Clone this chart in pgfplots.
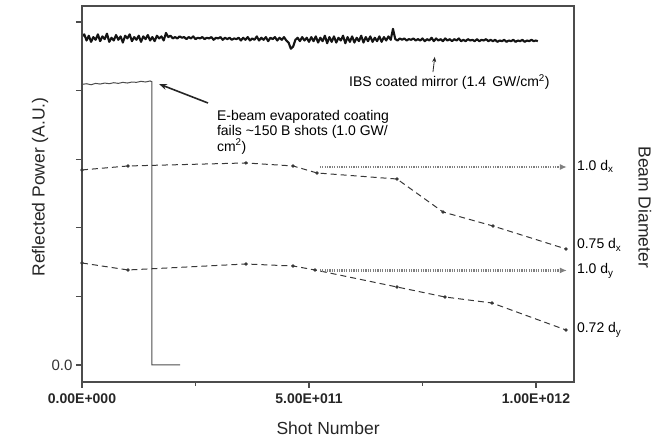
\documentclass[border=0pt]{standalone}
\usepackage{fontspec}
\setmainfont{Liberation Sans}
\usepackage{pgfplots}
\pgfplotsset{compat=1.18}
\usetikzlibrary{arrows.meta}

\definecolor{axgray}{gray}{0.30}
\definecolor{curvec}{gray}{0.08}
\definecolor{dashc}{gray}{0.22}
\definecolor{dotc}{gray}{0.50}

\newcommand{\lbl}{\fontsize{17.5}{20}\selectfont}
\newcommand{\ann}{\fontsize{14}{15.5}\selectfont}

\begin{document}
\begin{tikzpicture}
\useasboundingbox (-82pt,-59pt) rectangle (577pt,382pt);
\begin{axis}[
  at={(0pt,0pt)}, anchor=south west,
  scale only axis,
  width=492pt, height=376pt,
  xmin=0, xmax=10.837,
  ymin=-0.248, ymax=5.233,
  clip=false,
  axis lines=box,
  axis line style={line width=1.3pt, axgray},
  every tick/.style={line width=1.1pt, axgray},
  tick align=outside,
  xtick pos=left, ytick pos=left,
  major tick length=6pt, minor tick length=4pt,
  xtick={0,5,10},
  xticklabels={0.00E+000,5.00E+011,1.00E+012},
  minor xtick={2.5,7.5},
  ytick={0,1,2,3,4,5},
  yticklabels={0.0,,,,,},
  xticklabel style={font=\fontsize{14}{16}\selectfont\bfseries, text=black!85, yshift=-2pt},
  yticklabel style={font=\fontsize{15}{17}\selectfont, text=black!80},
]

% IBS coated mirror
\addplot[curvec, line width=2.1pt, line join=round] coordinates {
(0.00,4.79) (0.05,4.82) (0.10,4.73) (0.15,4.80) (0.20,4.71) (0.25,4.78) (0.30,4.74) (0.35,4.82)
(0.40,4.72) (0.45,4.79) (0.50,4.75) (0.55,4.83) (0.60,4.71) (0.65,4.77) (0.70,4.73) (0.75,4.81)
(0.80,4.74) (0.85,4.79) (0.90,4.70) (0.95,4.80) (1.00,4.76) (1.05,4.82) (1.10,4.72) (1.15,4.78)
(1.20,4.74) (1.25,4.80) (1.30,4.71) (1.35,4.79) (1.40,4.75) (1.45,4.81) (1.50,4.73) (1.55,4.78)
(1.60,4.72) (1.65,4.80) (1.70,4.76) (1.75,4.79) (1.80,4.73) (1.85,4.84) (1.90,4.78) (1.95,4.80)
(2.00,4.76) (2.05,4.78) (2.10,4.76) (2.15,4.79) (2.20,4.77) (2.25,4.78) (2.30,4.75) (2.35,4.78)
(2.40,4.76) (2.45,4.79) (2.50,4.75) (2.55,4.77) (2.60,4.76) (2.65,4.78) (2.70,4.75) (2.75,4.77)
(2.80,4.76) (2.85,4.78) (2.90,4.74) (2.95,4.77) (3.00,4.76) (3.05,4.78) (3.10,4.74) (3.15,4.77)
(3.20,4.75) (3.25,4.77) (3.30,4.74) (3.35,4.76) (3.40,4.75) (3.45,4.77) (3.50,4.73) (3.55,4.77)
(3.60,4.74) (3.65,4.78) (3.70,4.73) (3.75,4.76) (3.80,4.74) (3.85,4.79) (3.90,4.73) (3.95,4.77)
(4.00,4.74) (4.05,4.78) (4.10,4.72) (4.15,4.77) (4.20,4.75) (4.25,4.78) (4.30,4.73) (4.35,4.77)
(4.40,4.74) (4.45,4.78) (4.50,4.73) (4.55,4.70) (4.60,4.61) (4.65,4.64) (4.70,4.74) (4.75,4.77)
(4.80,4.72) (4.85,4.78) (4.90,4.73) (4.95,4.77) (5.00,4.71) (5.05,4.78) (5.10,4.72) (5.15,4.79)
(5.20,4.70) (5.25,4.77) (5.30,4.72) (5.35,4.80) (5.40,4.69) (5.45,4.78) (5.50,4.71) (5.55,4.79)
(5.60,4.70) (5.65,4.77) (5.70,4.73) (5.75,4.80) (5.80,4.69) (5.85,4.78) (5.90,4.71) (5.95,4.79)
(6.00,4.70) (6.05,4.77) (6.10,4.72) (6.15,4.80) (6.20,4.70) (6.25,4.78) (6.30,4.72) (6.35,4.79)
(6.40,4.71) (6.45,4.77) (6.50,4.72) (6.55,4.79) (6.60,4.71) (6.65,4.78) (6.70,4.73) (6.75,4.79)
(6.80,4.74) (6.85,4.90) (6.90,4.75) (6.95,4.73) (7.00,4.76) (7.05,4.74) (7.10,4.76) (7.15,4.73)
(7.20,4.75) (7.25,4.74) (7.30,4.76) (7.35,4.73) (7.40,4.75) (7.45,4.73) (7.50,4.76) (7.55,4.72)
(7.60,4.75) (7.65,4.73) (7.70,4.77) (7.75,4.72) (7.80,4.76) (7.85,4.73) (7.90,4.75) (7.95,4.72)
(8.00,4.76) (8.05,4.73) (8.10,4.75) (8.15,4.72) (8.20,4.75) (8.25,4.73) (8.30,4.76) (8.35,4.72)
(8.40,4.74) (8.45,4.72) (8.50,4.75) (8.55,4.73) (8.60,4.74) (8.65,4.72) (8.70,4.75) (8.75,4.72)
(8.80,4.74) (8.85,4.73) (8.90,4.75) (8.95,4.72) (9.00,4.74) (9.05,4.72) (9.10,4.74) (9.15,4.71)
(9.20,4.73) (9.25,4.72) (9.30,4.74) (9.35,4.71) (9.40,4.73) (9.45,4.72) (9.50,4.74) (9.55,4.71)
(9.60,4.73) (9.65,4.72) (9.70,4.74) (9.75,4.71) (9.80,4.73) (9.85,4.72) (9.90,4.74) (9.95,4.72)
(10.00,4.73) (10.04,4.72)
};

% E-beam evaporated coating
\addplot[black!70, line width=1pt] coordinates {
(0.00,4.09) (0.10,4.10) (0.20,4.085) (0.30,4.105) (0.40,4.095) (0.50,4.11) (0.60,4.10)
(0.70,4.115) (0.80,4.105) (0.90,4.12) (1.00,4.11) (1.10,4.125) (1.20,4.12) (1.30,4.135)
(1.40,4.125) (1.50,4.14) (1.54,4.13) (1.54,0) (2.16,0)
};

% beam diameter dx
\addplot[dashc, line width=1pt, dash pattern=on 6pt off 4pt, mark=*, mark size=1.1pt, mark options={solid}] coordinates {
(0,2.843) (1.013,2.901) (3.612,2.945) (4.648,2.901) (5.176,2.799) (6.938,2.711)
(7.952,2.230) (9.053,2.026) (10.661,1.691)
};

% beam diameter dy
\addplot[dashc, line width=1pt, dash pattern=on 6pt off 4pt, mark=*, mark size=1.1pt, mark options={solid}] coordinates {
(0,1.487) (1.013,1.385) (3.612,1.472) (4.648,1.443) (5.132,1.385) (6.938,1.137)
(7.996,0.991) (9.031,0.904) (10.661,0.510)
};

% reference levels
\addplot[dotc, line width=2.2pt, dash pattern=on 1.2pt off 1.2pt, -{Latex[length=7pt,width=6pt]}] coordinates {(5.24,2.886) (10.68,2.886)};
\addplot[dotc, line width=2.2pt, dash pattern=on 1.2pt off 1.2pt, -{Latex[length=7pt,width=6pt]}] coordinates {(5.24,1.378) (10.68,1.378)};

% frame
\draw[axgray, line width=1.3pt] (rel axis cs:0,0) rectangle (rel axis cs:1,1);

% annotations
\draw[black!85, line width=0.8pt, -{Stealth[length=5pt,width=4pt]}] (axis cs:7.73,4.27) -- (axis cs:7.77,4.49);
\node[anchor=west, inner sep=0pt, font=\ann] at (axis cs:5.88,4.125) {IBS coated mirror (1.4\, GW/cm$^{\mathrm{2}}$)};
\draw[black!85, line width=1.6pt, -{Stealth[length=8pt,width=6pt]}] (axis cs:2.775,3.819) -- (axis cs:1.696,4.096);
\node[anchor=west, inner sep=0pt, align=left, font=\ann] at (axis cs:2.97,3.397)
  {E-beam evaporated coating\\fails \textasciitilde150 B shots (1.0 GW/\\cm$^{\mathrm{2}}$)};

% right-hand labels
\node[anchor=west, inner sep=0pt, font=\ann] at (axis cs:10.90,2.90) {1.0 d$_{\mathrm{x}}$};
\node[anchor=west, inner sep=0pt, font=\ann] at (axis cs:10.90,1.749) {0.75 d$_{\mathrm{x}}$};
\node[anchor=west, inner sep=0pt, font=\ann] at (axis cs:10.90,1.370) {1.0 d$_{\mathrm{y}}$};
\node[anchor=west, inner sep=0pt, font=\ann] at (axis cs:10.90,0.510) {0.72 d$_{\mathrm{y}}$};

% axis titles
\node[rotate=90, font=\lbl, text=black!85] at (axis cs:-0.925,2.595) {Reflected Power (A.U.)};
\node[rotate=-90, font=\lbl, text=black!85] at (axis cs:12.40,2.30) {Beam Diameter};
\node[font=\lbl, text=black!85] at (axis cs:5.42,-0.92) {Shot Number};
\end{axis}
\end{tikzpicture}
\end{document}
